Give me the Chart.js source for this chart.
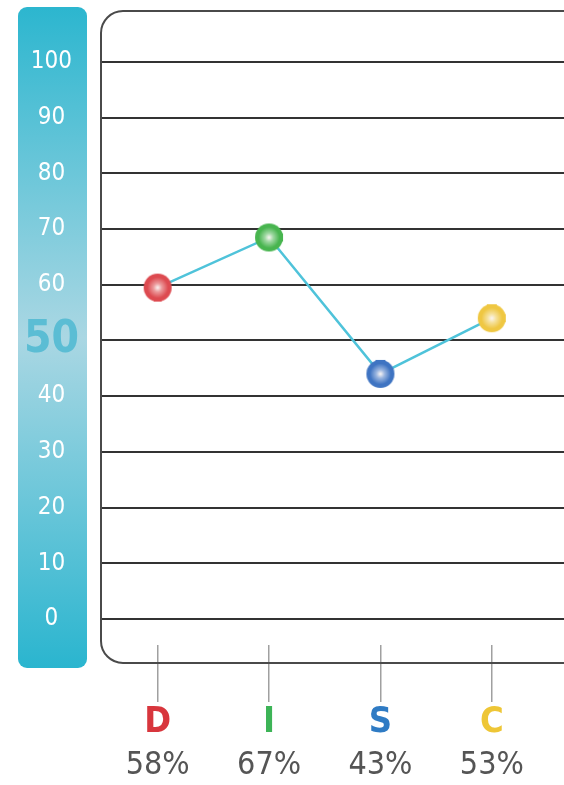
<!DOCTYPE html>
<html>
<head>
<meta charset="utf-8">
<script src="https://cdn.jsdelivr.net/npm/chart.js@4"></script>
<style>
  body { margin: 0; background: #fff; }
</style>
</head>
<body>
<canvas id="discChart" width="564" height="785"></canvas>
<script>
// categories along the x-axis
var styles = ["D", "I", "S", "C"];
// percentages printed under each letter
var percents = ["58%", "67%", "43%", "53%"];
// where each point sits on the 0-100 scale
var scores = [59.5, 68.5, 44, 54];
// tick values on the blue scale
var yTicks = [0, 10, 20, 30, 40, 50, 60, 70, 80, 90, 100];
// colours for the letters and the points
var letterColors = ["#d8363d", "#3db457", "#2f7bc4", "#eec636"];

var narrow = "'Liberation Sans Narrow', 'DejaVu Sans Condensed', 'Arial Narrow', sans-serif";

// little glossy ball used as the point style
function ball(color, light, knobs) {
  var c = document.createElement("canvas");
  c.width = 36; c.height = 36;
  var g = c.getContext("2d");
  g.fillStyle = color;
  knobs.forEach(function (k) {
    if (k == "b") g.fillRect(14, 26, 8, 6);
    if (k == "t") g.fillRect(13, 4, 10, 6);
    if (k == "r") g.fillRect(26, 14, 6, 8);
  });
  var grad = g.createRadialGradient(18, 18, 0, 18, 18, 14);
  grad.addColorStop(0, "#fbf6f4");
  grad.addColorStop(0.3, light);
  grad.addColorStop(0.75, color);
  grad.addColorStop(1, color);
  g.fillStyle = grad;
  g.beginPath();
  g.arc(18, 18, 14, 0, Math.PI * 2);
  g.fill();
  return c;
}
var balls = [
  ball("#dd4a50", "#ec9a9c", ["b"]),
  ball("#48b54f", "#9fd8a2", ["r"]),
  ball("#3f74c2", "#9bb6e0", ["t"]),
  ball("#efc742", "#f6e29e", ["t", "r"])
];

// blue scale bar on the left, rounded frame and the horizontal rules
var backdrop = {
  id: "backdrop",
  beforeDraw: function (chart) {
    var ctx = chart.ctx;
    var grad = ctx.createLinearGradient(0, 7, 0, 668);
    grad.addColorStop(0, "#2cb6cf");
    grad.addColorStop(0.5, "#aad7e3");
    grad.addColorStop(1, "#2ab5cf");
    ctx.save();
    ctx.fillStyle = grad;
    ctx.beginPath();
    ctx.roundRect(18, 7, 69, 661, 9);
    ctx.fill();
    ctx.restore();
  },
  beforeDatasetsDraw: function (chart) {
    var ctx = chart.ctx;
    var y = chart.scales.y;
    ctx.save();
    ctx.strokeStyle = "#333333";
    ctx.lineWidth = 2;
    y.ticks.forEach(function (t) {
      var py = Math.round(y.getPixelForValue(t.value));
      ctx.beginPath();
      ctx.moveTo(101, py);
      ctx.lineTo(chart.width, py);
      ctx.stroke();
    });
    ctx.strokeStyle = "#4a4a4a";
    ctx.beginPath();
    ctx.roundRect(101, 11, 520, 652, 22);
    ctx.stroke();
    ctx.restore();
  }
};

var ctx = document.getElementById("discChart");
var discChart = new Chart(ctx, {
  type: "line",
  data: {
    labels: styles,
    datasets: [
      {
        data: scores,
        borderColor: "#4fc3da",
        borderWidth: 2.5,
        pointStyle: balls,
        pointRadius: 14,
        fill: false
      }
    ]
  },
  options: {
    responsive: false,
    animation: false,
    layout: { padding: { top: 62, right: 14, left: 0, bottom: 0 } },
    plugins: { legend: { display: false }, tooltip: { enabled: false } },
    scales: {
      x: {
        type: "category",
        position: "bottom",
        offset: true,
        weight: 0,
        grid: { display: true, drawOnChartArea: false, drawTicks: true, tickLength: 57, color: "#a0a0a0", lineWidth: 1.5 },
        border: { display: false },
        ticks: {
          color: function (c) { return letterColors[c.index]; },
          font: { family: narrow, size: 36, weight: "bold", lineHeight: 1 },
          padding: 3,
          maxRotation: 0,
          autoSkip: false
        },
        afterFit: function (s) { s.height = 97; }
      },
      x2: {
        type: "category",
        position: "bottom",
        labels: percents,
        offset: true,
        weight: 1,
        grid: { display: false, drawTicks: false },
        border: { display: false },
        ticks: {
          color: "#555555",
          font: { family: narrow, size: 32, lineHeight: 1 },
          padding: 8,
          maxRotation: 0,
          autoSkip: false
        },
        afterFit: function (s) { s.height = 43; }
      },
      y: {
        min: -4.67,
        max: 100,
        grid: { display: false, drawTicks: false },
        border: { display: false },
        ticks: {
          autoSkip: false,
          crossAlign: "center",
          padding: 23,
          color: function (c) { return c.tick && c.tick.value === 50 ? "#5bbdd4" : "#ffffff"; },
          font: function (c) {
            return c.tick && c.tick.value === 50
              ? { family: narrow, size: 44, weight: "bold" }
              : { family: narrow, size: 24 };
          }
        },
        afterBuildTicks: function (s) {
          s.ticks = yTicks.map(function (v) { return { value: v }; });
        },
        afterFit: function (s) { s.width = 102; }
      }
    }
  },
  plugins: [backdrop]
});
</script>
</body>
</html>
